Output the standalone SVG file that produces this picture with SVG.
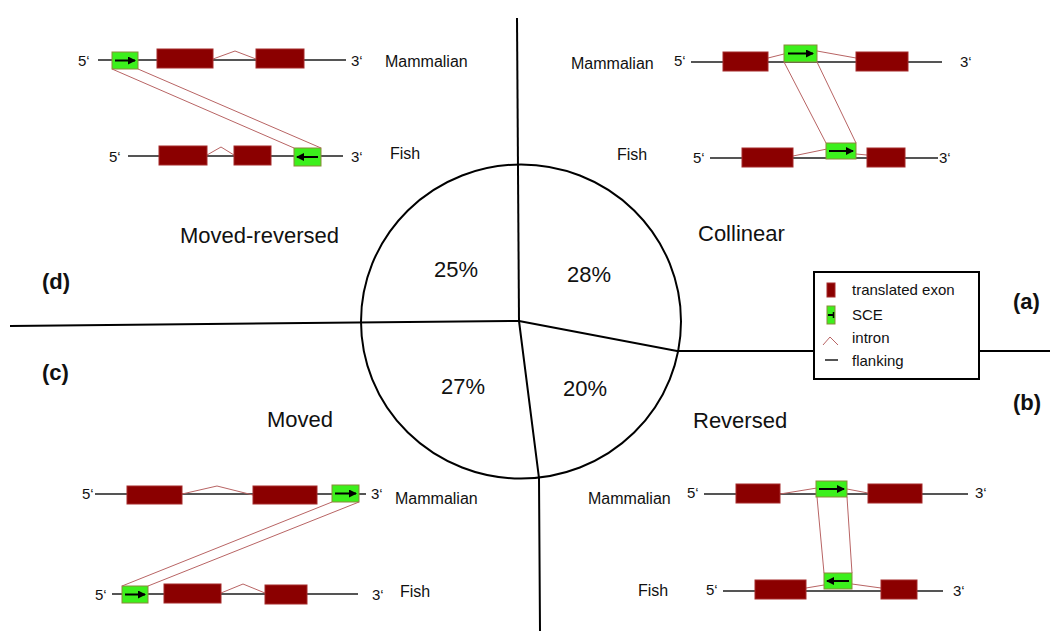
<svg xmlns="http://www.w3.org/2000/svg" width="1050" height="631" viewBox="0 0 1050 631">
<style>
.t{font-family:"Liberation Sans",Arial,sans-serif;font-size:15px;fill:#111}
.sp{font-family:"Liberation Sans",Arial,sans-serif;font-size:16px;fill:#111}
.big{font-family:"Liberation Sans",Arial,sans-serif;font-size:22px;fill:#111}
.lab{font-family:"Liberation Sans",Arial,sans-serif;font-size:22px;font-weight:bold;fill:#111}
.pct{font-family:"Liberation Sans",Arial,sans-serif;font-size:22px;fill:#111;text-anchor:middle}
.fl{stroke:#555;stroke-width:2;fill:none}
.ex{fill:#8b0000;stroke:#a52a2a;stroke-width:1}
.sce{fill:#3cf01c;stroke:#8a8a3a;stroke-width:1}
.in{stroke:#b86464;stroke-width:1;fill:none}
.cx{stroke:#b86464;stroke-width:1;fill:none}
.ar{stroke:#000;stroke-width:2;fill:none;marker-end:url(#ah)}
.ax{stroke:#000;stroke-width:2;fill:none}
</style>
<defs>
<marker id="ah" markerUnits="userSpaceOnUse" markerWidth="8" markerHeight="8" refX="7" refY="4" orient="auto">
<path d="M0,0 L8,4 L0,8 Z" fill="#000"/>
</marker>
</defs>
<rect width="1050" height="631" fill="#fff"/>

<g id="axes">
<polyline class="ax" points="517,18 519,321"/>
<polyline class="ax" points="10,326 519,321"/>
<polyline class="ax" points="519,321 677,351 1050,351"/>
<polyline class="ax" points="519,321 539,478 540,631"/>
<ellipse cx="521" cy="321.5" rx="160" ry="157" fill="none" stroke="#000" stroke-width="2"/>
</g>

<g id="pie-labels">
<text class="pct" x="456" y="277">25%</text>
<text class="pct" x="589" y="282">28%</text>
<text class="pct" x="463" y="394">27%</text>
<text class="pct" x="585" y="396">20%</text>
</g>

<g id="titles">
<text class="big" x="180" y="243">Moved-reversed</text>
<text class="big" x="698" y="241">Collinear</text>
<text class="big" x="267" y="427">Moved</text>
<text class="big" x="693" y="428">Reversed</text>
<text class="lab" x="42" y="289">(d)</text>
<text class="lab" x="42" y="380">(c)</text>
<text class="lab" x="1013" y="309">(a)</text>
<text class="lab" x="1013" y="410">(b)</text>
</g>

<g id="moved-reversed">
<text class="t" x="78" y="66">5‘</text>
<line class="fl" x1="98" y1="60" x2="346" y2="60"/>
<polyline class="in" points="213,59 235,51 256,59"/>
<rect class="ex" x="157" y="49" width="56" height="19"/>
<rect class="ex" x="256" y="49" width="48" height="19"/>
<rect class="sce" x="112" y="52" width="26" height="17"/>
<line class="ar" x1="115" y1="60.5" x2="135" y2="60.5"/>
<text class="t" x="351" y="66">3‘</text>
<text class="sp" x="385" y="67">Mammalian</text>
<text class="t" x="109" y="162">5‘</text>
<line class="fl" x1="128" y1="156" x2="343" y2="156"/>
<polyline class="in" points="207,155 221,147 234,155"/>
<rect class="ex" x="159" y="146" width="48" height="19"/>
<rect class="ex" x="234" y="146" width="37" height="19"/>
<rect class="sce" x="294" y="148" width="27" height="18"/>
<line class="ar" x1="318" y1="157" x2="297" y2="157"/>
<text class="t" x="351" y="162">3‘</text>
<text class="sp" x="390" y="159">Fish</text>
<line class="cx" x1="112" y1="69" x2="294" y2="148"/>
<line class="cx" x1="138" y1="69" x2="321" y2="148"/>
</g>

<g id="collinear">
<text class="sp" x="571" y="69">Mammalian</text>
<text class="t" x="674" y="66">5‘</text>
<line class="fl" x1="691" y1="62" x2="942" y2="62"/>
<line class="in" x1="768" y1="58" x2="784" y2="54"/>
<line class="in" x1="817" y1="51" x2="856" y2="58"/>
<rect class="ex" x="723" y="52" width="45" height="19"/>
<rect class="ex" x="856" y="52" width="52" height="19"/>
<rect class="sce" x="784" y="45" width="33" height="17"/>
<line class="ar" x1="788" y1="53.5" x2="813" y2="53.5"/>
<text class="t" x="960" y="67">3‘</text>
<text class="sp" x="617" y="160">Fish</text>
<text class="t" x="693" y="163">5‘</text>
<line class="fl" x1="710" y1="158" x2="938" y2="158"/>
<line class="in" x1="793" y1="156" x2="827" y2="149"/>
<line class="in" x1="856" y1="154" x2="867" y2="155"/>
<rect class="ex" x="742" y="148" width="51" height="19"/>
<rect class="ex" x="867" y="148" width="38" height="19"/>
<rect class="sce" x="826" y="143" width="30" height="16"/>
<line class="ar" x1="829" y1="151" x2="853" y2="151"/>
<text class="t" x="939" y="163">3‘</text>
<line class="cx" x1="784" y1="62" x2="826" y2="143"/>
<line class="cx" x1="817" y1="62" x2="856" y2="143"/>
</g>

<g id="moved">
<text class="t" x="82" y="499">5‘</text>
<line class="fl" x1="95" y1="494" x2="366" y2="494"/>
<polyline class="in" points="182,494 217,486 253,495"/>
<rect class="ex" x="127" y="486" width="55" height="18"/>
<rect class="ex" x="253" y="486" width="64" height="18"/>
<rect class="sce" x="332" y="485" width="27" height="17"/>
<line class="ar" x1="335" y1="493.5" x2="356" y2="493.5"/>
<text class="t" x="371" y="499">3‘</text>
<text class="sp" x="395" y="504">Mammalian</text>
<text class="t" x="95" y="600">5‘</text>
<line class="fl" x1="112" y1="594" x2="358" y2="594"/>
<polyline class="in" points="221,593 243,584 265,593"/>
<rect class="ex" x="164" y="584" width="57" height="19"/>
<rect class="ex" x="265" y="585" width="42" height="19"/>
<rect class="sce" x="122" y="586" width="26" height="17"/>
<line class="ar" x1="125" y1="594.5" x2="145" y2="594.5"/>
<text class="t" x="372" y="600">3‘</text>
<text class="sp" x="400" y="597">Fish</text>
<line class="cx" x1="332" y1="502" x2="122" y2="586"/>
<line class="cx" x1="359" y1="502" x2="148" y2="586"/>
</g>

<g id="reversed">
<text class="sp" x="588" y="504">Mammalian</text>
<text class="t" x="687" y="498">5‘</text>
<line class="fl" x1="704" y1="494" x2="968" y2="494"/>
<line class="in" x1="780" y1="494" x2="817" y2="488"/>
<line class="in" x1="847" y1="489" x2="868" y2="493"/>
<rect class="ex" x="736" y="484" width="44" height="19"/>
<rect class="ex" x="868" y="484" width="54" height="19"/>
<rect class="sce" x="816" y="481" width="31" height="16"/>
<line class="ar" x1="819" y1="489" x2="844" y2="489"/>
<text class="t" x="975" y="498">3‘</text>
<text class="sp" x="638" y="596">Fish</text>
<text class="t" x="706" y="595">5‘</text>
<line class="fl" x1="723" y1="591" x2="943" y2="591"/>
<line class="in" x1="806" y1="588" x2="824" y2="585"/>
<line class="in" x1="852" y1="584" x2="881" y2="588"/>
<rect class="ex" x="755" y="580" width="51" height="19"/>
<rect class="ex" x="881" y="580" width="36" height="19"/>
<rect class="sce" x="824" y="573" width="28" height="16"/>
<line class="ar" x1="849" y1="581" x2="827" y2="581"/>
<text class="t" x="953" y="596">3‘</text>
<line class="cx" x1="817" y1="497" x2="824" y2="573"/>
<line class="cx" x1="847" y1="497" x2="852" y2="573"/>
</g>

<g id="legend">
<rect x="814" y="272" width="165" height="107" fill="#fff" stroke="#000" stroke-width="2"/>
<rect class="ex" x="827" y="283" width="8" height="14"/>
<text class="t" x="852" y="295">translated exon</text>
<rect class="sce" x="827" y="306" width="8" height="18"/>
<line x1="828" y1="315" x2="833" y2="315" stroke="#000" stroke-width="2"/>
<line x1="833.5" y1="312" x2="833.5" y2="318" stroke="#000" stroke-width="1.5"/>
<text class="t" x="852" y="320">SCE</text>
<polyline class="in" points="823,345 830,337 838,345"/>
<text class="t" x="852" y="343">intron</text>
<line class="fl" x1="825" y1="360" x2="838" y2="360"/>
<text class="t" x="852" y="366">flanking</text>
</g>
</svg>
